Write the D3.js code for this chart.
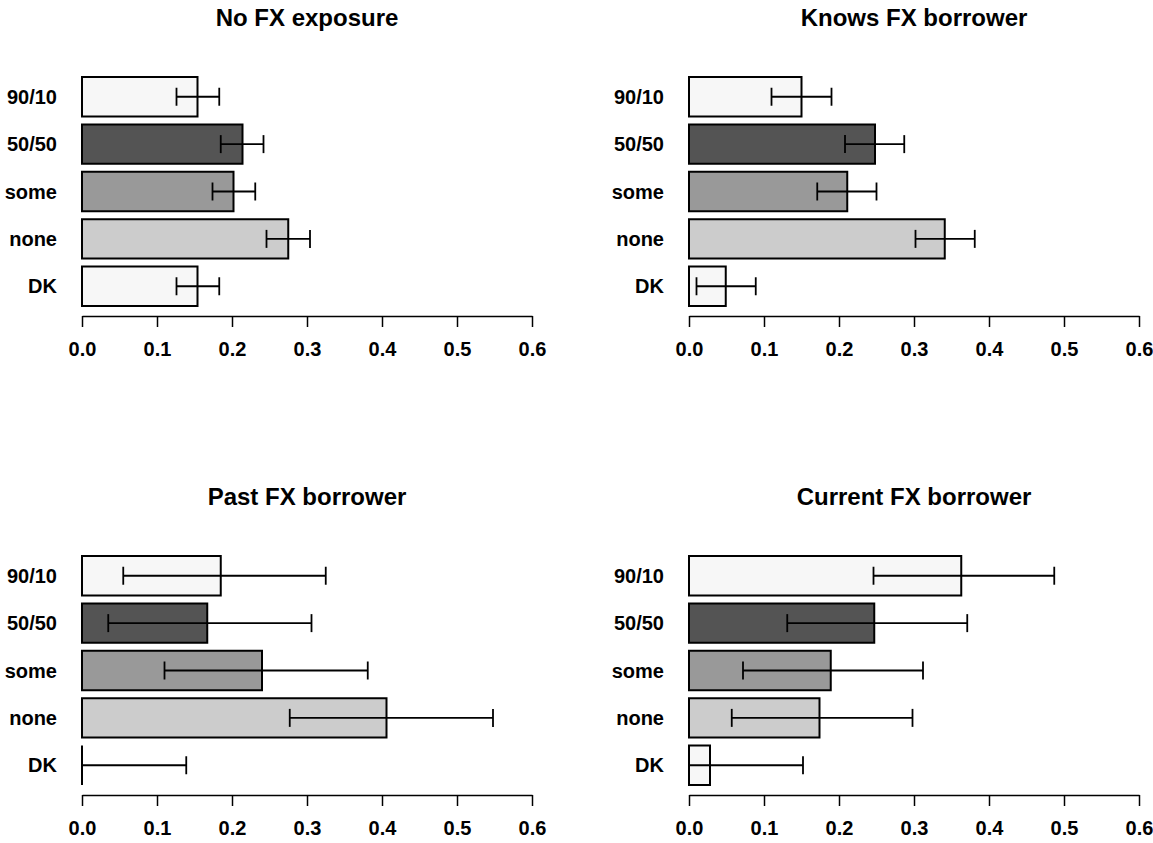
<!DOCTYPE html>
<html>
<head>
<meta charset="utf-8">
<script src="https://cdn.jsdelivr.net/npm/d3@7"></script>
<style>
  body { margin: 0; background: #fff; }
  svg text { font-family: "Liberation Sans", Arial, sans-serif; font-weight: bold; fill: #000; }
</style>
</head>
<body>
<div id="chartArea"></div>
<script>
// categories top to bottom, same order for every panel
let categories = ['90/10', '50/50', 'some', 'none', 'DK']
let barColors = ['#f7f7f7', '#545454', '#999999', '#cccccc', '#f7f7f7']
let titles = ['No FX exposure', 'Knows FX borrower', 'Past FX borrower', 'Current FX borrower']
let xTicks = [0, 0.1, 0.2, 0.3, 0.4, 0.5, 0.6]

// share per category, with lower / upper end of the error bar
let noFxMean = [0.154, 0.214, 0.202, 0.275, 0.154]
let noFxLow  = [0.126, 0.185, 0.174, 0.246, 0.126]
let noFxHigh = [0.183, 0.242, 0.231, 0.304, 0.183]

let knowsMean = [0.150, 0.248, 0.211, 0.341, 0.049]
let knowsLow  = [0.110, 0.208, 0.171, 0.302, 0.010]
let knowsHigh = [0.190, 0.287, 0.250, 0.381, 0.089]

let pastMean = [0.185, 0.167, 0.240, 0.406, 0.000]
let pastLow  = [0.055, 0.035, 0.110, 0.277, 0.000]
let pastHigh = [0.325, 0.306, 0.381, 0.548, 0.139]

let currentMean = [0.363, 0.247, 0.189, 0.174, 0.028]
let currentLow  = [0.246, 0.131, 0.072, 0.057, 0.000]
let currentHigh = [0.487, 0.371, 0.312, 0.298, 0.152]

let panels = [
  {title: titles[0], mean: noFxMean, low: noFxLow, high: noFxHigh, left: 82, top: 77},
  {title: titles[1], mean: knowsMean, low: knowsLow, high: knowsHigh, left: 689, top: 77},
  {title: titles[2], mean: pastMean, low: pastLow, high: pastHigh, left: 82, top: 556},
  {title: titles[3], mean: currentMean, low: currentLow, high: currentHigh, left: 689, top: 556}
]

let svgWidth = 1153
let svgHeight = 843
let plotWidth = 450
let barsHeight = 229
let capHalf = 9

let xScale = d3.scaleLinear()
              .domain([0, 0.6])
              .range([0, plotWidth])

let yScale = d3.scaleBand()
              .domain(categories)
              .range([0, barsHeight])
              .paddingInner(1 / 6)
              .paddingOuter(0)

let svg = d3.select('#chartArea')
    .append('svg')
    .attr('width', svgWidth)
    .attr('height', svgHeight)
    .style('background', '#fff')

panels.forEach(function(p) {
  let rows = categories.map(function(c, i) {
    return {cat: c, mean: p.mean[i], low: p.low[i], high: p.high[i], color: barColors[i]}
  })

  let g = svg.append('g').attr('transform', `translate(${p.left},${p.top})`)

  g.append('text')
    .attr('x', plotWidth / 2)
    .attr('y', -51)
    .attr('text-anchor', 'middle')
    .style('font-size', '24px')
    .text(p.title)

  // bars as closed paths so a zero value still draws its outline
  g.selectAll('path.bar')
    .data(rows)
    .enter()
    .append('path')
    .attr('class', 'bar')
    .attr('d', function(d) {
      let y0 = yScale(d.cat), y1 = y0 + yScale.bandwidth()
      let x0 = xScale(0), x1 = xScale(d.mean)
      return `M${x0},${y0}H${x1}V${y1}H${x0}Z`
    })
    .attr('fill', function(d) { return d.color })
    .attr('stroke', '#000')
    .attr('stroke-width', 2)

  let err = g.selectAll('g.err')
    .data(rows)
    .enter()
    .append('g')
    .attr('class', 'err')
    .attr('transform', function(d) {
      return `translate(0,${yScale(d.cat) + yScale.bandwidth() / 2})`
    })

  err.append('line')
    .attr('x1', function(d) { return xScale(d.low) })
    .attr('x2', function(d) { return xScale(d.high) })
    .attr('stroke', '#000')
    .attr('stroke-width', 1.8)

  err.append('line')
    .attr('x1', function(d) { return xScale(d.low) })
    .attr('x2', function(d) { return xScale(d.low) })
    .attr('y1', -capHalf)
    .attr('y2', capHalf)
    .attr('stroke', '#000')
    .attr('stroke-width', 1.8)

  err.append('line')
    .attr('x1', function(d) { return xScale(d.high) })
    .attr('x2', function(d) { return xScale(d.high) })
    .attr('y1', -capHalf)
    .attr('y2', capHalf)
    .attr('stroke', '#000')
    .attr('stroke-width', 1.8)

  // category labels on the left
  g.selectAll('text.cat')
    .data(rows)
    .enter()
    .append('text')
    .attr('class', 'cat')
    .attr('x', -25)
    .attr('y', function(d) { return yScale(d.cat) + yScale.bandwidth() / 2 })
    .attr('dy', '0.35em')
    .attr('text-anchor', 'end')
    .style('font-size', '20px')
    .text(function(d) { return d.cat })

  let axis = g.append('g')
    .attr('transform', `translate(0,${barsHeight + 10})`)
    .call(d3.axisBottom(xScale)
      .tickValues(xTicks)
      .tickFormat(d3.format('.1f'))
      .tickSizeInner(11)
      .tickSizeOuter(0)
      .tickPadding(15))

  axis.select('.domain').attr('stroke', '#000').attr('stroke-width', 1.5)
  axis.selectAll('.tick line').attr('stroke', '#000').attr('stroke-width', 1.5)
  axis.selectAll('.tick text')
    .style('font-size', '20px')
    .style('font-family', '"Liberation Sans", Arial, sans-serif')
    .style('font-weight', 'bold')
})
</script>
</body>
</html>
